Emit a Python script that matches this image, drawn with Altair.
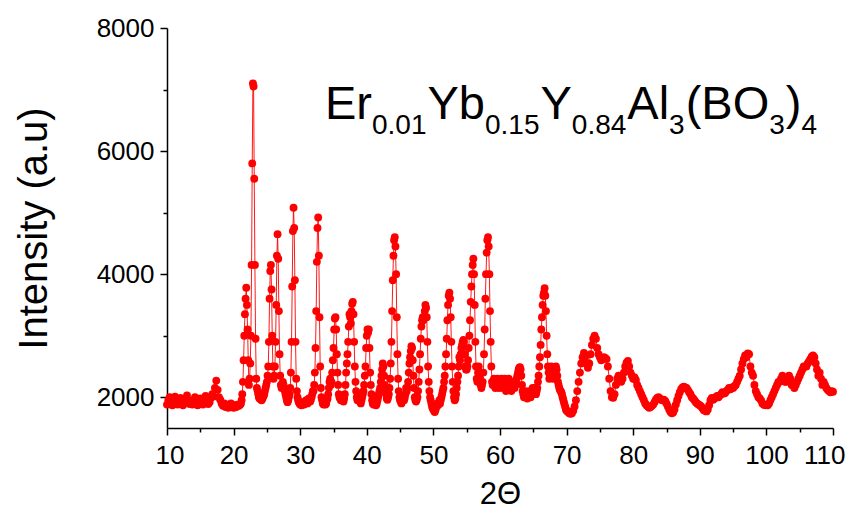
import altair as alt
import pandas as pd

# ---------------- data ----------------
# 2-theta 10.0 .. 20.8, step 0.2
intensity_10_21 = [
    1880, 1950, 2000, 1920, 1870,
    1960, 2010, 1930, 1880, 1900,
    1990, 1940, 1870, 1910, 1960,
    2030, 1950, 1890, 1920, 1880,
    1940, 2000, 1910, 1870, 1930,
    1980, 1900, 1880, 1950, 2020,
    1940, 1890, 1920, 1990, 2050,
    2010, 2150, 2270, 2120, 2000,
    1960, 1900, 1860, 1900, 1840,
    1880, 1830, 1860, 1900, 1850,
    1830, 1870, 1840, 1880, 1860,
]
# 2-theta 21.0 .. 69.9, step 0.1
intensity_21_70 = [
    1880, 1900, 1950, 2050, 2250, 2600, 3000, 3350, 3600, 3780,  # 21
    3500, 3100, 2600, 2200, 2300, 2550, 3000, 4150, 5800, 7100,  # 22
    7050, 5550, 4150, 2950, 2300, 2150, 2100, 2050, 2000, 1980,  # 23
    1970, 1990, 1950, 1970, 2000, 2020, 2050, 2100, 2150, 2200,  # 24
    2250, 2350, 2500, 2900, 3600, 4050, 4150, 3750, 3000, 2500,  # 25
    2300, 2350, 2500, 2900, 3500, 4300, 4650, 4250, 3400, 2700,  # 26
    2350, 2200, 2150, 2200, 2250, 2200, 2150, 2100, 2050, 2000,  # 27
    1950, 1920, 1950, 2000, 2050, 2150, 2400, 2900, 3800, 4700,  # 28
    5080, 4750, 3900, 2900, 2300, 2100, 2000, 1950, 1920, 1900,  # 29
    1880, 1900, 1870, 1890, 1920, 1900, 1880, 1900, 1930, 1950,  # 30
    1920, 1900, 1940, 1980, 1950, 1930, 1960, 2000, 2050, 2100,  # 31
    2100, 2200, 2400, 2800, 3400, 4200, 4750, 4920, 4300, 3300,  # 32
    2500, 2150, 2000, 1950, 1900, 1880, 1900, 1920, 1880, 1900,  # 33
    1950, 1980, 2050, 2150, 2250, 2300, 2200, 2250, 2400, 2600,  # 34
    2800, 3100, 3280, 3300, 3100, 2700, 2400, 2200, 2050, 2000,  # 35
    1980, 1950, 1970, 2000, 1950, 1930, 1980, 2050, 2200, 2400,  # 36
    2550, 2700, 2900, 3150, 3350, 3300, 3200, 3400, 3520, 3550,  # 37
    3350, 2900, 2500, 2250, 2100, 2000, 1950, 1980, 1960, 1940,  # 38
    1950, 1900, 1950, 2000, 2050, 2100, 2200, 2350, 2500, 2800,  # 39
    3000, 3100, 3050, 3100, 2800, 2400, 2200, 2050, 1950, 1900,  # 40
    1880, 1900, 1920, 1880, 1870, 1900, 1950, 2000, 2050, 2100,  # 41
    2150, 2250, 2350, 2450, 2550, 2500, 2350, 2200, 2100, 2050,  # 42
    1980, 1960, 2000, 2050, 2150, 2300, 2550, 2900, 3400, 3900,  # 43
    4300, 4550, 4600, 4450, 4000, 3300, 2700, 2300, 2100, 2000,  # 44
    1950, 1930, 1900, 1950, 2000, 1980, 1950, 1990, 2050, 2150,  # 45
    2100, 2150, 2250, 2400, 2550, 2650, 2750, 2830, 2800, 2600,  # 46
    2350, 2150, 2000, 1950, 1930, 1960, 2000, 2100, 2250, 2450,  # 47
    2700, 2950, 3150, 3250, 3300, 3250, 3300, 3400, 3500, 3450,  # 48
    3300, 2900, 2500, 2250, 2100, 2000, 1950, 1900, 1850, 1820,  # 49
    1800, 1780, 1760, 1790, 1830, 1880, 1900, 1870, 1900, 1950,  # 50
    1900, 1950, 2000, 2050, 2100, 2150, 2250, 2350, 2500, 2700,  # 51
    2950, 3250, 3500, 3650, 3700, 3600, 3300, 2900, 2500, 2250,  # 52
    2100, 2000, 1950, 1980, 2050, 2150, 2250, 2350, 2500, 2650,  # 53
    2600, 2700, 2800, 2850, 2900, 2930, 2900, 2700, 2500, 2450,  # 54
    2450, 2500, 2600, 2800, 3000, 3250, 3550, 3800, 4000, 4150,  # 55
    4250, 4000, 3500, 2900, 2500, 2300, 2250, 2400, 2500, 2400,  # 56
    2300, 2200, 2150, 2200, 2250, 2400, 2700, 3100, 3600, 4000,  # 57
    4350, 4550, 4600, 4450, 4000, 3400, 2900, 2500, 2250, 2200,  # 58
    2250, 2300, 2200, 2150, 2200, 2250, 2300, 2250, 2200, 2150,  # 59
    2200, 2250, 2300, 2250, 2200, 2150, 2250, 2300, 2200, 2100,  # 60
    2150, 2200, 2250, 2300, 2250, 2200, 2150, 2100, 2150, 2200,  # 61
    2250, 2200, 2150, 2200, 2250, 2300, 2350, 2400, 2450, 2480,  # 62
    2490, 2450, 2350, 2200, 2100, 2050, 2000, 2050, 2100, 2050,  # 63
    2000, 1980, 2000, 2050, 2100, 2050, 2000, 2050, 2100, 2150,  # 64
    2050, 2100, 2150, 2100, 2050, 2100, 2150, 2250, 2350, 2500,  # 65
    2650, 2850, 3100, 3300, 3500, 3650, 3700, 3770, 3650, 3400,  # 66
    3000, 2700, 2500, 2400, 2300, 2350, 2450, 2500, 2450, 2350,  # 67
    2300, 2350, 2400, 2450, 2500, 2450, 2350, 2250, 2200, 2150,  # 68
    2120, 2100, 2080, 2050, 2000, 1960, 1920, 1880, 1840, 1800,  # 69
]
# 2-theta 70.0 .. 110.0, step 0.2
intensity_70_110 = [
    1780, 1760, 1740, 1730, 1740,  # 70
    1780, 1850, 1950, 2100, 2250,  # 71
    2400, 2550, 2650, 2720, 2650,  # 72
    2550, 2480, 2550, 2700, 2850,  # 73
    2950, 3000, 2950, 2800, 2700,  # 74
    2650, 2600, 2620, 2650, 2640,  # 75
    2620, 2500, 2300, 2100, 2000,  # 76
    1990, 2050, 2200, 2300, 2350,  # 77
    2300, 2250, 2300, 2400, 2500,  # 78
    2560, 2590, 2500, 2400, 2350,  # 79
    2300, 2320, 2280, 2200, 2150,  # 80
    2100, 2050, 2000, 1950, 1900,  # 81
    1870, 1850, 1830, 1840, 1860,  # 82
    1880, 1920, 1960, 1990, 2000,  # 83
    1980, 1960, 1950, 1960, 1940,  # 84
    1900, 1850, 1800, 1760, 1740,  # 85
    1750, 1800, 1880, 1950, 2020,  # 86
    2080, 2130, 2160, 2170, 2160,  # 87
    2150, 2120, 2080, 2050, 2000,  # 88
    1980, 1950, 1920, 1900, 1880,  # 89
    1870, 1850, 1820, 1790, 1780,  # 90
    1770, 1800, 1870, 1950, 1990,  # 91
    1960, 1980, 2000, 2020, 2000,  # 92
    2030, 2050, 2080, 2060, 2070,  # 93
    2100, 2120, 2150, 2130, 2160,  # 94
    2150, 2180, 2200, 2250, 2300,  # 95
    2350, 2450, 2550, 2620, 2680,  # 96
    2650, 2710, 2700, 2500, 2400,  # 97
    2350, 2200, 2100, 2050, 2000,  # 98
    1980, 1950, 1900, 1880, 1870,  # 99
    1880, 1870, 1900, 1950, 2000,  # 100
    2050, 2100, 2150, 2200, 2250,  # 101
    2250, 2300, 2350, 2300, 2250,  # 102
    2250, 2300, 2350, 2300, 2200,  # 103
    2200, 2150, 2200, 2250, 2300,  # 104
    2350, 2400, 2450, 2500, 2500,  # 105
    2500, 2550, 2580, 2620, 2660,  # 106
    2680, 2650, 2550, 2450, 2350,  # 107
    2400, 2300, 2200, 2250, 2200,  # 108
    2150, 2120, 2100, 2080, 2100,  # 109
    2090,                          # 110
]

x_major = [10, 20, 30, 40, 50, 60, 70, 80, 90, 100, 110]
x_minor = [15, 25, 35, 45, 55, 65, 75, 85, 95, 105]
y_major = [2000, 4000, 6000, 8000]
y_minor = [3000, 5000, 7000]

formula_parts = [("Er", "main"), ("0.01", "sub"), ("Yb", "main"), ("0.15", "sub"),
                 ("Y", "main"), ("0.84", "sub"), ("Al", "main"), ("3", "sub"),
                 ("(BO", "main"), ("3", "sub"), (")", "main"), ("4", "sub")]

# ---------------- build table ----------------
two_theta = ([round(10 + 0.2 * i, 2) for i in range(len(intensity_10_21))]
             + [round(21 + 0.1 * i, 2) for i in range(len(intensity_21_70))]
             + [round(70 + 0.2 * i, 2) for i in range(len(intensity_70_110))])
intensity = intensity_10_21 + intensity_21_70 + intensity_70_110
df = pd.DataFrame({"two_theta": two_theta, "intensity": intensity})

FONT = "Liberation Sans"
RED = "#ff0000"
x_scale = alt.Scale(domain=[10, 110], nice=False, zero=False)
y_scale = alt.Scale(domain=[1500, 8000], nice=False, zero=False)

main = alt.Chart(df).mark_line(
    color=RED, strokeWidth=1, opacity=0.9,
    point=alt.OverlayMarkDef(color=RED, filled=True, size=62, opacity=1),
).encode(
    x=alt.X("two_theta:Q", scale=x_scale,
            axis=alt.Axis(values=x_major, format="d", tickSize=7, labelPadding=7,
                          orient="bottom", labelFontSize=26, labelFlush=True,
                          labelFlushOffset=12, labelOverlap=False,
                          title="2Θ", titleFontSize=31, titlePadding=11,
                          titleFont=FONT, titleFontWeight="normal")),
    y=alt.Y("intensity:Q", scale=y_scale,
            axis=alt.Axis(values=y_major, format="d", tickSize=7, labelPadding=6,
                          orient="left", labelFontSize=26, labelFlush=False,
                          title="Intensity (a.u)", titleFontSize=40, titlePadding=42,
                          titleFont=FONT, titleFontWeight="normal")),
)

minor = alt.Chart(df.iloc[[0]]).mark_point(opacity=0).encode(
    x=alt.X("two_theta:Q", scale=x_scale,
            axis=alt.Axis(values=x_minor, tickSize=4, labels=False, domain=False,
                          orient="bottom", title=None)),
    y=alt.Y("intensity:Q", scale=y_scale,
            axis=alt.Axis(values=y_minor, tickSize=4, labels=False, domain=False,
                          orient="left", title=None)),
)

# formula annotation with subscripts
widths = {"E": .667, "r": .333, "Y": .667, "b": .556, "A": .667, "l": .222,
          "(": .333, ")": .333, "B": .667, "O": .778, ".": .278}
MAIN_SIZE, SUB_SIZE = 47, 28
x_pos = 158
text_layers = []
for txt, kind in formula_parts:
    size = MAIN_SIZE if kind == "main" else SUB_SIZE
    ypos = 91 if kind == "main" else 106
    text_layers.append(
        alt.Chart(pd.DataFrame({"t": [txt]})).mark_text(
            align="left", baseline="alphabetic", font=FONT, fontSize=size, color="black"
        ).encode(text="t:N", x=alt.value(x_pos), y=alt.value(ypos))
    )
    x_pos += sum(widths.get(c, .556) for c in txt) * size + (1 if kind == "sub" else 0)

chart = alt.layer(main, minor, *text_layers).resolve_axis(
    x="independent", y="independent"
).properties(
    width=666, height=400,
    padding={"left": 159, "top": 20, "right": 12, "bottom": 84},
    autosize=alt.AutoSizeParams(type="none"),
).configure_view(stroke=None).configure_axis(
    grid=False, labelFont=FONT, labelFontSize=26, labelColor="black",
    domainColor="black", domainWidth=1.5, tickColor="black", tickWidth=1.5,
    titleColor="black",
)

chart.save("out.html", embed_options={"renderer": "svg", "actions": False})
